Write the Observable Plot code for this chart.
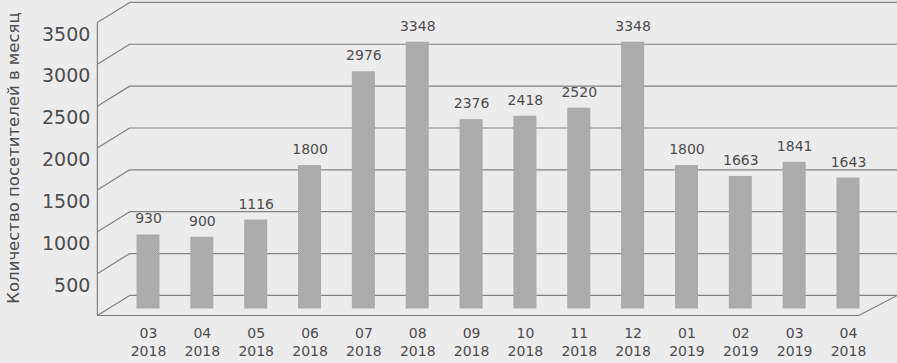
<!DOCTYPE html>
<html>
<head>
<meta charset="utf-8">
<script src="https://cdn.jsdelivr.net/npm/d3@7"></script>
<script src="https://cdn.jsdelivr.net/npm/@observablehq/plot@0.6"></script>
<style>
  html, body { margin: 0; padding: 0; background: #ececed; }
  #chart { position: relative; width: 897px; height: 363px; overflow: hidden; background: #ececed; }
  #chart svg.layer { position: absolute; left: 0; top: 0; background: transparent; }
</style>
</head>
<body>
<svg width="0" height="0" style="position:absolute">
  <defs>
    <pattern id="dither" width="2" height="2" patternUnits="userSpaceOnUse">
      <rect width="2" height="2" fill="#b1b1b1"></rect>
      <rect width="1" height="1" fill="#a6a6a6"></rect>
      <rect x="1" y="1" width="1" height="1" fill="#a6a6a6"></rect>
    </pattern>
  </defs>
</svg>
<div id="chart"></div>
<script>
// ---- data ----
const months = ["03", "04", "05", "06", "07", "08", "09", "10", "11", "12", "01", "02", "03", "04"];
const years  = ["2018", "2018", "2018", "2018", "2018", "2018", "2018", "2018", "2018", "2018", "2019", "2019", "2019", "2018"];
const visitors = [930, 900, 1116, 1800, 2976, 3348, 2376, 2418, 2520, 3348, 1800, 1663, 1841, 1643];
const yTicks = [500, 1000, 1500, 2000, 2500, 3000, 3500];
const gridValues = [0, 500, 1000, 1500, 2000, 2500, 3000, 3500];
const yTitle = "Количество посетителей в месяц";

const data = visitors.map((v, i) => ({i, v, label: months[i] + "\n" + years[i]}));

// ---- layout ----
const W = 897, H = 363;
const n = visitors.length;
const xScale = {type: "linear", domain: [0, n - 1], range: [148, 848]};
const frame = {x0: -0.95, x1: n - 1 + 0.19, depthX: 0.6, depthY: 240};
const ink = "#4d4d4d";
const lineColor = "#828282";
const font = "DejaVu Sans, sans-serif";

// back layer: pseudo-3D frame and y axis
const back = Plot.plot({
  width: W, height: H,
  margin: 0,
  x: {...xScale, axis: null},
  y: {domain: [0, 3500], range: [315, 22], axis: null},
  style: {background: "transparent", fontFamily: font},
  marks: [
    // back wall grid lines
    Plot.ruleY(gridValues, {
      y: d => d + frame.depthY,
      x1: frame.x0 + frame.depthX, x2: n + 2,
      stroke: lineColor, strokeWidth: 1.2
    }),
    // left side wall diagonals
    Plot.link(gridValues, {
      x1: frame.x0, y1: d => d,
      x2: frame.x0 + frame.depthX, y2: d => d + frame.depthY,
      stroke: lineColor, strokeWidth: 1.2
    }),
    // front-left vertical edge
    Plot.link([0], {
      x1: frame.x0, x2: frame.x0, y1: 0, y2: 3500,
      stroke: lineColor, strokeWidth: 1.2
    }),
    // floor front edge
    Plot.link([0], {
      x1: frame.x0, x2: frame.x1, y1: 0, y2: 0,
      stroke: lineColor, strokeWidth: 1.2
    }),
    // floor right diagonal
    Plot.link([0], {
      x1: frame.x1, y1: 0, x2: frame.x1 + frame.depthX * 1.2, y2: frame.depthY,
      stroke: lineColor, strokeWidth: 1.2
    }),
    // y tick labels
    Plot.text(yTicks, {
      x: frame.x0, y: d => d, text: d => String(d),
      dx: -7, dy: 12, textAnchor: "end",
      fontSize: 19, fill: ink
    }),
    // y title
    Plot.text([yTitle], {
      frameAnchor: "left", textAnchor: "middle", rotate: -90, dx: 13, dy: -24,
      fontSize: 16.5, fill: ink
    })
  ]
});
back.classList.add("layer");

// front layer: bars and labels
const front = Plot.plot({
  width: W, height: H,
  margin: 0,
  x: {...xScale, axis: null},
  y: {domain: [0, 3500], range: [308.5, 308.5 - 3500 * 0.0797], axis: null},
  style: {background: "transparent", fontFamily: font},
  marks: [
    Plot.rectY(data, {
      x1: d => d.i - 0.214, x2: d => d.i + 0.214, y1: 0, y2: "v",
      fill: "url(#dither)"
    }),
    Plot.text(data, {
      x: "i", y: "v", text: d => String(d.v),
      dy: -16, fontSize: 14, fill: ink
    }),
    Plot.text(data, {
      x: "i", y: 0, text: "label",
      dy: 32.5, lineAnchor: "middle", lineHeight: 1.3,
      fontSize: 14, fill: ink
    })
  ]
});
front.classList.add("layer");

const chart = document.getElementById("chart");
chart.appendChild(back);
chart.appendChild(front);
</script>
</body>
</html>
